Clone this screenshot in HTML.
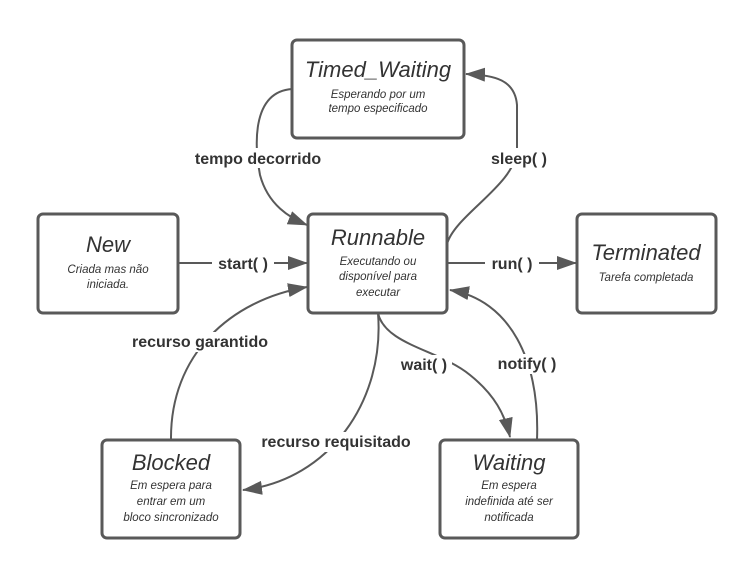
<!DOCTYPE html>
<html><head><style>
body{margin:0;background:#fff;}
svg{display:block;font-family:"Liberation Sans",sans-serif;}
.b{fill:#fff;stroke:#595959;stroke-width:3;}
.e{fill:none;stroke:#595959;stroke-width:2;}
.t{font-style:italic;font-size:22px;fill:#333;text-anchor:middle;}
.s{font-style:italic;font-size:11.5px;fill:#333;text-anchor:middle;}
.l{font-weight:bold;font-size:16px;fill:#333;text-anchor:middle;}
.lb{fill:#fff;}
</style></head><body>
<svg width="756" height="579" viewBox="0 0 756 579">
<defs>
<marker id="A" markerWidth="20" markerHeight="14" refX="19" refY="7" orient="auto" markerUnits="userSpaceOnUse" viewBox="0 0 20 14"><path d="M0,0 L20,7 L0,14 z" fill="#595959"/></marker></defs>
<path class="e" d="M292,89 C250,92 255,150 260,175 C268,205 290,218 307,225" marker-end="url(#A)"/>
<path class="e" d="M447,244 C455,215 515,185 517,150 L517,105 C515,80 495,75 466,74" marker-end="url(#A)"/>
<path class="e" d="M178,263 L307,263" marker-end="url(#A)"/>
<path class="e" d="M447,263 L576,263" marker-end="url(#A)"/>
<path class="e" d="M171,440 C170,355 230,300 307,287" marker-end="url(#A)"/>
<path class="e" d="M378,313 C385,400 330,480 243,490" marker-end="url(#A)"/>
<path class="e" d="M378,313 C385,345 440,350 470,375 C495,395 505,415 510,437" marker-end="url(#A)"/>
<path class="e" d="M537,440 C540,360 510,300 450,290" marker-end="url(#A)"/>
<rect class="lb" x="184" y="148" width="148" height="20"/><text class="l" x="258" y="164">tempo decorrido</text>
<rect class="lb" x="484" y="148" width="70" height="20"/><text class="l" x="519" y="164">sleep( )</text>
<rect class="lb" x="212" y="253" width="62" height="20"/><text class="l" x="243" y="269">start( )</text>
<rect class="lb" x="485" y="253" width="54" height="20"/><text class="l" x="512" y="269">run( )</text>
<rect class="lb" x="118" y="332" width="164" height="20"/><text class="l" x="200" y="347">recurso garantido</text>
<rect class="lb" x="249" y="432" width="174" height="20"/><text class="l" x="336" y="447">recurso requisitado</text>
<rect class="lb" x="396" y="355" width="56" height="20"/><text class="l" x="424" y="370">wait( )</text>
<rect class="lb" x="492" y="354" width="70" height="20"/><text class="l" x="527" y="369">notify( )</text>
<rect class="b" x="292" y="40" width="172" height="98" rx="5"/>
<text class="t" x="378" y="77">Timed_Waiting</text>
<text class="s" x="378" y="98">Esperando por um</text><text class="s" x="378" y="112">tempo especificado</text>
<rect class="b" x="308" y="214" width="139" height="99" rx="5"/>
<text class="t" x="378" y="245">Runnable</text>
<text class="s" x="378" y="265">Executando ou</text><text class="s" x="378" y="280">disponível para</text><text class="s" x="378" y="296">executar</text>
<rect class="b" x="38" y="214" width="140" height="99" rx="5"/>
<text class="t" x="108" y="252">New</text>
<text class="s" x="108" y="273">Criada mas não</text><text class="s" x="108" y="288">iniciada.</text>
<rect class="b" x="577" y="214" width="139" height="99" rx="5"/>
<text class="t" x="646" y="260">Terminated</text>
<text class="s" x="646" y="281">Tarefa completada</text>
<rect class="b" x="102" y="440" width="138" height="98" rx="5"/>
<text class="t" x="171" y="470">Blocked</text>
<text class="s" x="171" y="489">Em espera para</text><text class="s" x="171" y="505">entrar em um</text><text class="s" x="171" y="521">bloco sincronizado</text>
<rect class="b" x="440" y="440" width="138" height="98" rx="5"/>
<text class="t" x="509" y="470">Waiting</text>
<text class="s" x="509" y="489">Em espera</text><text class="s" x="509" y="505">indefinida até ser</text><text class="s" x="509" y="521">notificada</text>
</svg>
</body></html>
